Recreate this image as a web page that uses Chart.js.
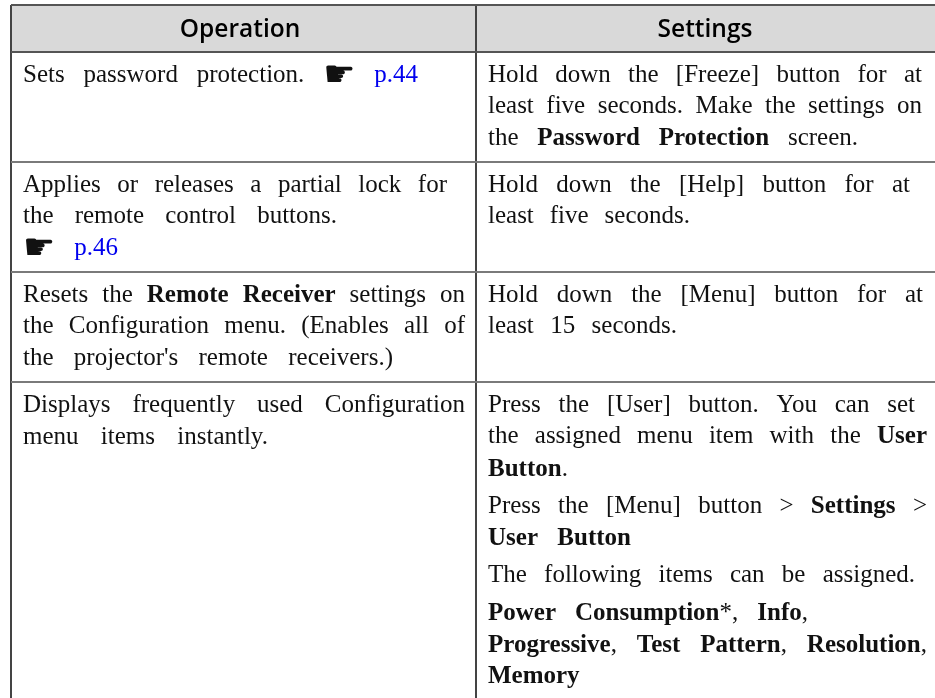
<!DOCTYPE html>
<html>
<head>
<meta charset="utf-8">
<title>Remote control operations</title>
<script src="https://cdn.jsdelivr.net/npm/chart.js@4/dist/chart.umd.min.js"></script>
<style>
  html, body { margin: 0; padding: 0; background: #fff; }
  canvas { display: block; }
</style>
</head>
<body>
<canvas id="myChart" width="935" height="698"></canvas>
<script>
// table text, | toggles bold and ~ toggles the blue link colour
const headers = ['Operation', 'Settings'];

const operationLines = [
  'Sets password protection. ☛ ~p.44~',
  'Applies or releases a partial lock for',
  'the remote control buttons.',
  '☛ ~p.46~',
  'Resets the |Remote Receiver| settings on',
  'the Configuration menu. (Enables all of',
  "the projector's remote receivers.)",
  'Displays frequently used Configuration',
  'menu items instantly.'
];

const settingsLines = [
  'Hold down the [Freeze] button for at',
  'least five seconds. Make the settings on',
  'the |Password Protection| screen.',
  'Hold down the [Help] button for at',
  'least five seconds.',
  'Hold down the [Menu] button for at',
  'least 15 seconds.',
  'Press the [User] button. You can set',
  'the assigned menu item with the |User|',
  '|Button|.',
  'Press the [Menu] button > |Settings| >',
  '|User Button|',
  'The following items can be assigned.',
  '|Power Consumption|*, |Info|,',
  '|Progressive|, |Test Pattern|, |Resolution|,',
  '|Memory|'
];

// table rules, in page pixels
const rowEdges = [5, 52, 162, 272, 382];
const columnEdges = [11, 476];

// where each text line sits
const operationBaselines = [82, 192, 223, 255, 302, 333, 365, 412, 444];
const operationEnds = [418, 447, 337, 118, 465, 465, 393, 465, 268];
const settingsBaselines = [82, 113, 145, 192, 223, 302, 333, 412, 443, 476, 513, 545, 582, 620, 652, 683];
const settingsEnds = [922, 922, 858, 910, 690, 923, 677, 915, 927, 566, 927, 631, 915, 808, 927, 581];

const headerCentres = [240, 705];
const headerBaseline = 37;
const operationStart = 23;
const settingsStart = 488;

const fontSize = 25;
const handSize = 36;
const handDrop = 4;
const serif = '"Liberation Serif", "DejaVu Sans", serif';

// split a marked up line into words, each word a list of styled runs
function parseLine(line) {
  const words = [];
  let bold = false, blue = false, runs = [], text = '';
  const flush = () => {
    if (text) runs.push({ text, bold, blue });
    text = '';
  };
  for (const ch of line) {
    if (ch === '|') { flush(); bold = !bold; }
    else if (ch === '~') { flush(); blue = !blue; }
    else if (ch === ' ') { flush(); words.push(runs); runs = []; }
    else text += ch;
  }
  flush();
  if (runs.length) words.push(runs);
  return words;
}

function setFont(ctx, run) {
  const size = run.text === '☛' ? handSize : fontSize;
  ctx.font = (run.bold ? 'bold ' : '') + size + 'px ' + serif;
  ctx.fillStyle = run.blue ? '#0000ee' : '#111';
}

function wordWidth(ctx, word) {
  return word.reduce((sum, run) => {
    setFont(ctx, run);
    return sum + ctx.measureText(run.text).width;
  }, 0);
}

// draw one line stretched between two x values, like the justified original
function drawLine(ctx, line, x0, x1, y) {
  const words = parseLine(line);
  const widths = words.map(w => wordWidth(ctx, w));
  const total = widths.reduce((a, b) => a + b, 0);
  const gap = words.length > 1 ? (x1 - x0 - total) / (words.length - 1) : 0;
  let x = x0;
  words.forEach(word => {
    word.forEach(run => {
      setFont(ctx, run);
      ctx.fillText(run.text, x, y + (run.text === '☛' ? handDrop : 0));
      x += ctx.measureText(run.text).width;
    });
    x += gap;
  });
}

const tableText = {
  id: 'tableText',
  afterDraw(chart) {
    const { ctx, scales: { x, y } } = chart;
    ctx.save();
    ctx.textAlign = 'left';
    ctx.textBaseline = 'alphabetic';
    operationLines.forEach((line, i) => {
      drawLine(ctx, line, x.getPixelForValue(operationStart), x.getPixelForValue(operationEnds[i]), y.getPixelForValue(operationBaselines[i]));
    });
    settingsLines.forEach((line, i) => {
      drawLine(ctx, line, x.getPixelForValue(settingsStart), x.getPixelForValue(settingsEnds[i]), y.getPixelForValue(settingsBaselines[i]));
    });
    ctx.font = '600 24.5px "Open Sans", "Noto Sans", sans-serif';
    ctx.fillStyle = '#000';
    ctx.textAlign = 'center';
    headers.forEach((h, i) => {
      ctx.fillText(h, x.getPixelForValue(headerCentres[i]), y.getPixelForValue(headerBaseline));
    });
    ctx.restore();
  }
};

new Chart(document.getElementById('myChart'), {
  type: 'bar',
  data: {
    datasets: [{
      label: 'Header',
      data: [{ x: [columnEdges[0], 935], y: (rowEdges[0] + rowEdges[1]) / 2 }],
      backgroundColor: '#d9d9d9',
      borderWidth: 0,
      barThickness: rowEdges[1] - rowEdges[0],
      order: 1
    }]
  },
  options: {
    indexAxis: 'y',
    responsive: false,
    animation: false,
    layout: { padding: { left: columnEdges[0], top: rowEdges[0] } },
    plugins: { legend: { display: false }, title: { display: false }, tooltip: { enabled: false } },
    scales: {
      x: {
        type: 'linear',
        position: 'top',
        min: columnEdges[0],
        max: 935,
        afterBuildTicks: axis => { axis.ticks = columnEdges.map(value => ({ value })); },
        grid: { color: '#444', lineWidth: 2, drawTicks: false, z: 1 },
        border: { display: false },
        ticks: { display: false }
      },
      y: {
        type: 'linear',
        reverse: true,
        offset: false,
        min: rowEdges[0],
        max: 698,
        afterBuildTicks: axis => { axis.ticks = rowEdges.map(value => ({ value })); },
        grid: {
          color: c => (c.index < 2 ? '#555' : '#7a7a7a'),
          lineWidth: 2,
          drawTicks: false,
          offset: false,
          z: 1
        },
        border: { display: false },
        ticks: { display: false }
      }
    }
  },
  plugins: [tableText]
});
</script>
</body>
</html>
